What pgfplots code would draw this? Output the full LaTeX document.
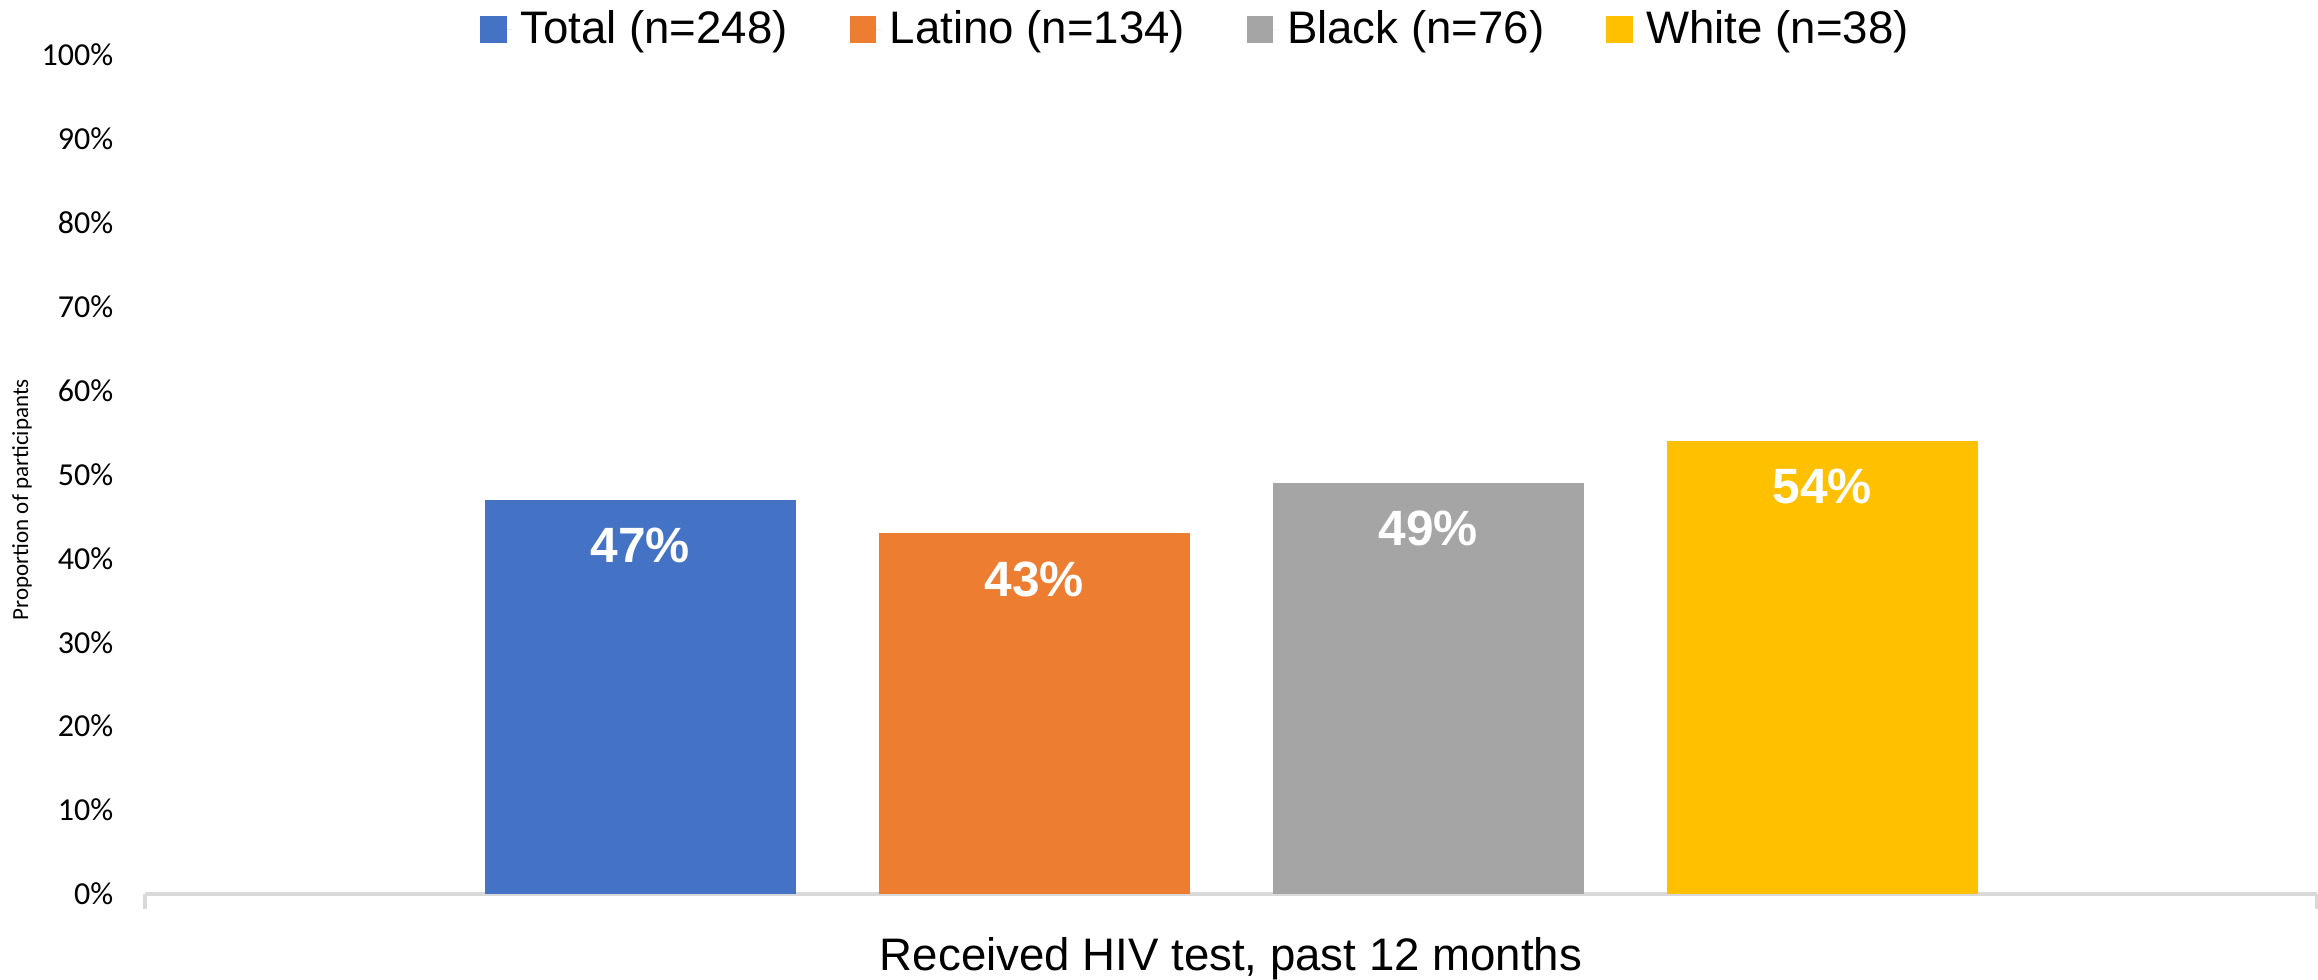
\documentclass[border=0pt]{standalone}
\usepackage{pgfplots}
\pgfplotsset{compat=1.18}
\usepackage{fontspec}
\setmainfont{Liberation Sans}
\newfontfamily\carlito{Carlito}
\definecolor{cTotal}{HTML}{4472C4}
\definecolor{cLatino}{HTML}{ED7D31}
\definecolor{cBlack}{HTML}{A5A5A5}
\definecolor{cWhite}{HTML}{FFC000}
\definecolor{axisgray}{HTML}{D9D9D9}
\begin{document}
\begin{tikzpicture}
\begin{axis}[
  scale only axis, width=543pt, height=209.75pt,
  xmin=0, xmax=5.513, ymin=0, ymax=100,
  clip=false,
  axis x line=bottom, axis y line=left,
  x axis line style={draw=axisgray, line width=0.8pt, -},
  y axis line style={draw=none},
  xtick={0,5.513}, xticklabels={},
  x tick style={draw=axisgray, line width=0.8pt},
  tick align=outside, major tick length=3.75pt,
  ytick={0,10,...,100},
  y tick style={draw=none},
  yticklabel={\pgfmathprintnumber[assume math mode=true]{\tick}\%},
  yticklabel style={font=\carlito\fontsize{8}{8}\selectfont, inner sep=0pt, xshift=-4pt},
  ybar, bar width=0.789, bar shift=0pt,
  nodes near coords={\pgfmathprintnumber[assume math mode=true]{\pgfplotspointmeta}\%},
  every node near coord/.append style={font=\bfseries\fontsize{12.4}{12.4}\selectfont, text=white, anchor=center, yshift=-11.5pt},
  legend image code/.code={\fill[#1] (0pt,-3.375pt) rectangle (6.6pt,3.375pt); \path (0pt,0pt) -- (8pt,0pt);},
  legend columns=4,
  legend style={draw=none, fill=none, inner sep=0pt, font=\fontsize{11.4}{13}\selectfont,
    at={(0.485,1.0298)}, anchor=center,
    /tikz/every even column/.append style={column sep=13.5pt}},
]
\addplot[fill=cTotal, draw=none] coordinates {(1.2576,47)};
\addlegendentry{Total (n=248)}
\addplot[fill=cLatino, draw=none] coordinates {(2.2576,43)};
\addlegendentry{Latino (n=134)}
\addplot[fill=cBlack, draw=none] coordinates {(3.2576,49)};
\addlegendentry{Black (n=76)}
\addplot[fill=cWhite, draw=none] coordinates {(4.2576,54)};
\addlegendentry{White (n=38)}
\coordinate (O) at (rel axis cs:0,0);
\node[font=\fontsize{11.4}{12}\selectfont, anchor=center] at (rel axis cs:0.5,0) [yshift=-16.25pt] {Received HIV test, past 12 months};
\node[font=\carlito\fontsize{5.75}{6}\selectfont, xshift=-30.75pt, rotate=90, anchor=center] at (rel axis cs:0,0.47) {Proportion of participants};
\end{axis}
\pgfresetboundingbox
\useasboundingbox (O) ++(-36.25pt,-21.5pt) rectangle ++(579.5pt,245pt);
\end{tikzpicture}
\end{document}
